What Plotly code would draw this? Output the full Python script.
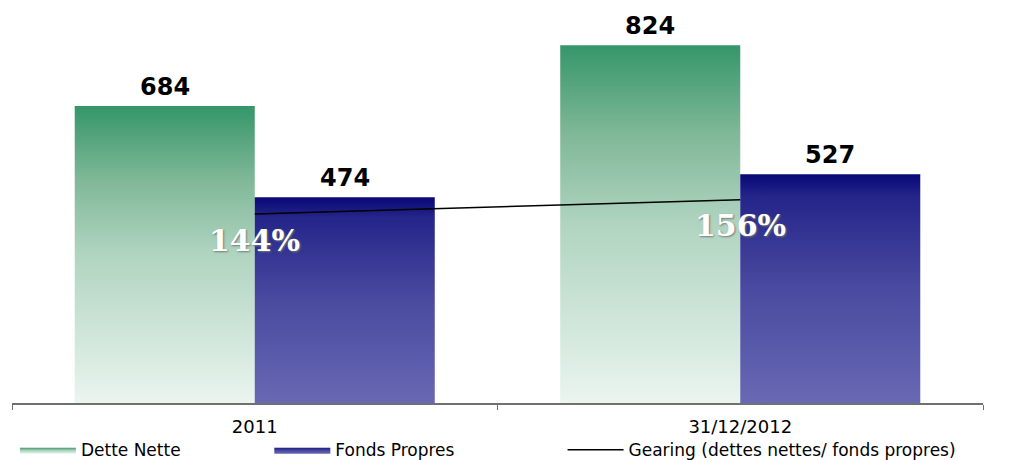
import plotly.graph_objects as go

categories = ["2011", "31/12/2012"]
dette_nette = [684, 824]
fonds_propres = [474, 527]
gearing = [144, 156]
gearing_labels = ["144%", "156%"]

BAR_W = 0.3708
GREEN_SCALE = [[0, "#eaf5ef"], [0.5, "#b0d4c0"], [0.75, "#80b898"], [1, "#35966a"]]
BLUE_SCALE = [[0, "#6868b4"], [0.5, "#4a4aa0"], [0.9, "#25258a"], [1, "#080878"]]

fig = go.Figure()

def bar_shape(x0, x1, v):
    return [x0, x1, x1, x0, x0], [0, 0, v, v, 0]

for i, v in enumerate(dette_nette):
    xs, ys = bar_shape(i - BAR_W, i, v)
    fig.add_trace(go.Scatter(
        x=xs, y=ys, mode="lines", fill="toself", line=dict(width=0),
        fillgradient=dict(type="vertical", colorscale=GREEN_SCALE),
        name="Dette Nette", legendgroup="dn", showlegend=(i == 0),
        legend="legend", hoverinfo="skip"))
for i, v in enumerate(fonds_propres):
    xs, ys = bar_shape(i, i + BAR_W, v)
    fig.add_trace(go.Scatter(
        x=xs, y=ys, mode="lines", fill="toself", line=dict(width=0),
        fillgradient=dict(type="vertical", colorscale=BLUE_SCALE),
        name="Fonds Propres", legendgroup="fp", showlegend=(i == 0),
        legend="legend2", hoverinfo="skip"))

label_font = dict(family="DejaVu Sans", size=24, color="black", weight="bold")
for i, v in enumerate(dette_nette):
    fig.add_annotation(x=i - BAR_W / 2, y=v, text=str(v), showarrow=False,
                       yanchor="middle", yshift=19, font=label_font)
for i, v in enumerate(fonds_propres):
    fig.add_annotation(x=i + BAR_W / 2, y=v, text=str(v), showarrow=False,
                       yanchor="middle", yshift=19, font=label_font)

fig.add_trace(go.Scatter(
    x=list(range(len(categories))), y=gearing, mode="lines",
    line=dict(color="black", width=1.5), yaxis="y2",
    name="Gearing (dettes nettes/ fonds propres)", legend="legend3", hoverinfo="skip"))

for i, g in enumerate(gearing):
    fig.add_annotation(
        x=i, y=g, yref="y2", text=gearing_labels[i], showarrow=False,
        yshift=-26, font=dict(family="DejaVu Serif", size=30,
                              color="white", weight="bold", shadow="1px 1px 2px #777"))

legend_common = dict(orientation="h", yanchor="middle", y=-0.12, xanchor="left",
                     font=dict(family="DejaVu Sans", size=17, color="black"),
                     bgcolor="rgba(0,0,0,0)", itemwidth=56)
fig.update_layout(
    width=1023, height=460,
    margin=dict(l=12, r=40, t=10, b=57, autoexpand=False),
    plot_bgcolor="white", paper_bgcolor="white",
    showlegend=True,
    legend=dict(x=0.003, **legend_common),
    legend2=dict(x=0.265, **legend_common),
    legend3=dict(x=0.567, **legend_common),
    xaxis=dict(range=[-0.5, 1.5], tickmode="array", tickvals=list(range(len(categories))),
               ticktext=categories, ticks="", showgrid=False, zeroline=False,
               showline=True, linecolor="#707070", linewidth=1.5, ticklabelstandoff=7,
               tickfont=dict(family="DejaVu Sans", size=18, color="black"),
               minor=dict(tickmode="array", tickvals=[-0.5, 0.5, 1.5], ticks="outside",
                          ticklen=5, tickcolor="#707070", tickwidth=1, showgrid=False)),
    yaxis=dict(range=[0, 905], visible=False, showgrid=False),
    yaxis2=dict(range=[-14.8, 315.5], overlaying="y", visible=False, showgrid=False),
)

fig.write_html("out.html")
